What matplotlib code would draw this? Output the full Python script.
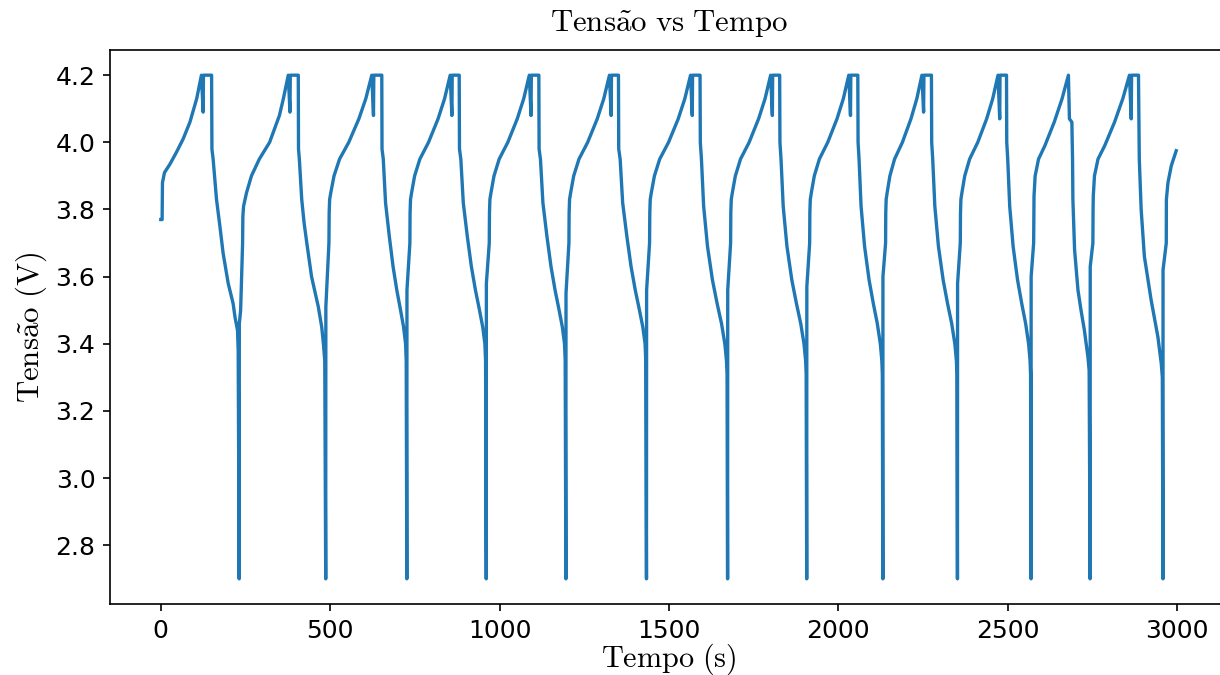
import matplotlib
matplotlib.use("Agg")
import matplotlib.pyplot as plt

# ciclos de carga/descarga: tempo (s) e tensao (V), um trecho por linha
tempo_s = [
    0, 4, 5, 11, 27, 46, 66, 86, 106, 120, 125, 126, 150,
    151, 154.5, 164.5, 174.5, 184, 199, 213.5, 219, 226.5, 228.5, 231.4,
    231.8, 235.7, 241.5, 242.3, 244.4, 253.1, 267.6, 290.8, 321.2, 350.2, 361.8, 376.3, 381.3, 382.3, 405.8,
    406.5, 409, 416, 423, 431, 445, 456, 465, 475, 480, 484, 486.8,
    487.2, 496.3, 497, 498.4, 501.8, 511.3, 527.6, 554.8, 584.7, 605.1, 622.8, 627.8, 628.8, 652.3,
    653, 656.7, 663.4, 674.5, 685.6, 696.6, 707.7, 716.6, 722.5, 724.4, 726.2,
    726.6, 735.2, 735.8, 737.1, 740.3, 749.2, 764.6, 790.2, 818.4, 837.6, 854.2, 859.2, 860.2, 880.8,
    881.6, 885.6, 892.8, 904.7, 916.7, 928.7, 940.7, 950.2, 956.6, 958.6, 960.6,
    961, 969.5, 970.1, 971.4, 974.6, 983.5, 998.7, 1024.2, 1052.1, 1071.2, 1087.7, 1092.7, 1093.7, 1115.8,
    1116.6, 1120.6, 1127.8, 1139.7, 1151.7, 1163.7, 1175.7, 1185.2, 1191.6, 1193.6, 1195.6,
    1196, 1204.6, 1205.2, 1206.5, 1209.7, 1218.7, 1234.2, 1259.9, 1288.2, 1307.5, 1324.2, 1329.2, 1330.2, 1350.8,
    1351.6, 1355.8, 1363.2, 1375.6, 1388, 1400.4, 1412.8, 1422.7, 1429.4, 1431.4, 1433.5,
    1433.9, 1442.6, 1443.3, 1444.6, 1447.8, 1456.9, 1472.5, 1498.6, 1527.2, 1546.7, 1563.6, 1568.6, 1569.6, 1591.6,
    1592.4, 1595.7, 1602.2, 1613.6, 1628.2, 1642, 1655, 1664.8, 1669.6, 1671.3, 1672.9,
    1673.3, 1681.8, 1682.4, 1683.7, 1686.9, 1695.8, 1711, 1736.5, 1764.4, 1783.5, 1800, 1805, 1806, 1826.6,
    1827.4, 1830.6, 1837, 1848.1, 1862.5, 1876.1, 1888.8, 1898.4, 1903.2, 1904.8, 1906.4,
    1906.8, 1915.1, 1915.7, 1917, 1920.1, 1928.8, 1943.7, 1968.5, 1995.8, 2014.5, 2030.6, 2035.6, 2036.6, 2057.2,
    2058, 2060.9, 2066.8, 2077.2, 2090.5, 2103, 2114.8, 2123.7, 2128.1, 2129.6, 2131.1,
    2131.4, 2139.2, 2139.7, 2140.9, 2143.8, 2151.9, 2165.7, 2188.8, 2214.1, 2231.4, 2246.4, 2251.4, 2252.4, 2274.5,
    2275.3, 2278.3, 2284.5, 2295.2, 2309.1, 2322.1, 2334.4, 2343.6, 2348.2, 2349.8, 2351.3,
    2351.7, 2359.7, 2360.3, 2361.5, 2364.5, 2372.8, 2387.2, 2411.2, 2437.5, 2455.4, 2471, 2476, 2477, 2496.1,
    2496.8, 2499.7, 2505.5, 2515.6, 2528.7, 2541, 2552.6, 2561.3, 2565.6, 2567.1, 2568.5,
    2568.8, 2576.2, 2576.8, 2577.3, 2580.6, 2590.6, 2609.3, 2636.9, 2660.1, 2678.8, 2681.8, 2689,
    2691, 2692, 2697, 2707, 2716, 2726, 2736.5, 2740, 2742.9,
    2743.2, 2751, 2751.6, 2752.2, 2755.7, 2766.1, 2785.9, 2814.9, 2839.3, 2859, 2864.2, 2865.2, 2885.6,
    2886.5, 2888, 2893.5, 2903, 2923, 2943, 2953, 2956, 2957.8,
    2958.1, 2967.6, 2968, 2972.6, 2982.4, 2997,
]
tensao_v = [
    3.77, 3.77, 3.88, 3.91, 3.935, 3.97, 4.01, 4.06, 4.13, 4.20, 4.09, 4.20, 4.20,
    3.98, 3.95, 3.83, 3.75, 3.67, 3.58, 3.52, 3.48, 3.44, 3.38, 2.70,
    3.46, 3.50, 3.70, 3.78, 3.81, 3.85, 3.90, 3.95, 4.00, 4.08, 4.13, 4.20, 4.09, 4.20, 4.20,
    3.98, 3.95, 3.83, 3.76, 3.70, 3.60, 3.55, 3.51, 3.45, 3.40, 3.35, 2.70,
    3.51, 3.70, 3.79, 3.83, 3.85, 3.90, 3.95, 4.00, 4.07, 4.13, 4.20, 4.08, 4.20, 4.20,
    3.98, 3.95, 3.82, 3.72, 3.63, 3.56, 3.50, 3.45, 3.40, 3.35, 2.70,
    3.56, 3.70, 3.79, 3.83, 3.85, 3.90, 3.95, 4.00, 4.07, 4.13, 4.20, 4.08, 4.20, 4.20,
    3.98, 3.95, 3.82, 3.72, 3.63, 3.56, 3.50, 3.45, 3.40, 3.35, 2.70,
    3.58, 3.70, 3.79, 3.83, 3.85, 3.90, 3.95, 4.00, 4.07, 4.13, 4.20, 4.08, 4.20, 4.20,
    3.98, 3.95, 3.82, 3.72, 3.63, 3.56, 3.50, 3.45, 3.40, 3.35, 2.70,
    3.55, 3.70, 3.79, 3.83, 3.85, 3.90, 3.95, 4.00, 4.07, 4.13, 4.20, 4.08, 4.20, 4.20,
    3.98, 3.95, 3.82, 3.72, 3.63, 3.56, 3.50, 3.45, 3.40, 3.35, 2.70,
    3.56, 3.70, 3.79, 3.83, 3.85, 3.90, 3.95, 4.00, 4.07, 4.13, 4.20, 4.08, 4.20, 4.20,
    4.00, 3.95, 3.81, 3.69, 3.59, 3.52, 3.46, 3.40, 3.35, 3.31, 2.70,
    3.56, 3.70, 3.79, 3.83, 3.85, 3.90, 3.95, 4.00, 4.07, 4.13, 4.20, 4.08, 4.20, 4.20,
    4.00, 3.95, 3.81, 3.69, 3.59, 3.52, 3.46, 3.40, 3.35, 3.31, 2.70,
    3.57, 3.70, 3.79, 3.83, 3.85, 3.90, 3.95, 4.00, 4.07, 4.13, 4.20, 4.08, 4.20, 4.20,
    4.00, 3.95, 3.81, 3.69, 3.59, 3.52, 3.46, 3.40, 3.35, 3.31, 2.70,
    3.60, 3.70, 3.79, 3.83, 3.85, 3.90, 3.95, 4.00, 4.07, 4.13, 4.20, 4.09, 4.20, 4.20,
    4.00, 3.95, 3.81, 3.69, 3.59, 3.52, 3.46, 3.40, 3.35, 3.31, 2.70,
    3.58, 3.70, 3.79, 3.83, 3.85, 3.90, 3.95, 4.00, 4.07, 4.13, 4.20, 4.07, 4.20, 4.20,
    4.00, 3.95, 3.81, 3.69, 3.59, 3.52, 3.46, 3.40, 3.35, 3.31, 2.70,
    3.60, 3.70, 3.80, 3.84, 3.90, 3.95, 3.99, 4.06, 4.13, 4.20, 4.07, 4.06,
    3.95, 3.83, 3.68, 3.56, 3.50, 3.44, 3.36, 3.32, 2.70,
    3.63, 3.70, 3.80, 3.84, 3.90, 3.95, 3.99, 4.06, 4.13, 4.20, 4.07, 4.20, 4.20,
    4.10, 3.95, 3.80, 3.66, 3.53, 3.42, 3.34, 3.30, 2.70,
    3.62, 3.70, 3.83, 3.88, 3.93, 3.975,
]

plt.rcParams["mathtext.fontset"] = "cm"

fig = plt.figure(figsize=(1220 / 150, 675 / 150), dpi=150)
ax = fig.add_axes([110 / 1220, 1 - 604 / 675, 1117 / 1220, 554 / 675])

ax.plot(tempo_s, tensao_v, color="#1f77b4", lw=1.6)

ax.set_xticks([0, 500, 1000, 1500, 2000, 2500, 3000])
ax.set_yticks([2.8, 3.0, 3.2, 3.4, 3.6, 3.8, 4.0, 4.2])
ax.tick_params(labelsize=12)

ax.set_title(r"$\mathrm{Tens\tilde{a}o\ vs\ Tempo}$", fontsize=14.8, pad=9)
ax.set_xlabel(r"$\mathrm{Tempo\ (s)}$", fontsize=14.5, labelpad=-0.6)
ax.set_ylabel(r"$\mathrm{Tens\tilde{a}o\ (V)}$", fontsize=14.8, labelpad=3)

fig.savefig("out.png", dpi=150)
